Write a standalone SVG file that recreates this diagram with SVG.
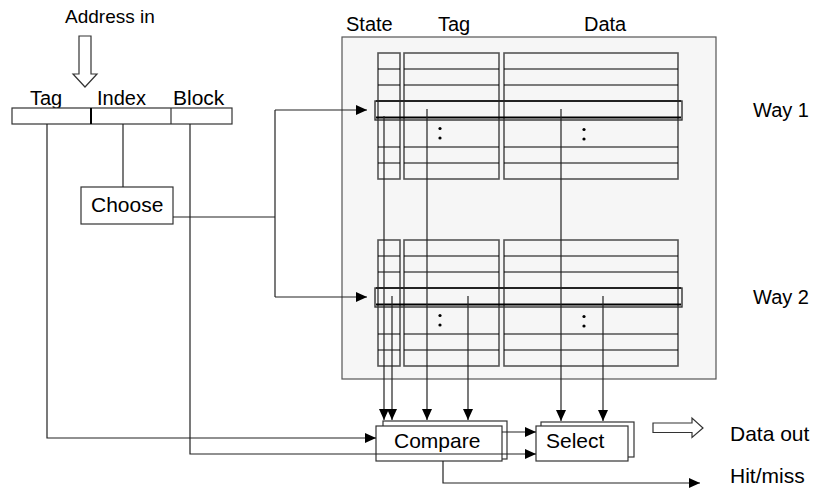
<svg xmlns="http://www.w3.org/2000/svg" width="821" height="493" viewBox="0 0 821 493">
  <style>
    text { font-family: "Liberation Sans", Arial, sans-serif; font-size: 20px; fill: #000; }
    .big { font-size: 21px; }
    .box { fill: #fff; stroke: #333; stroke-width: 1.2; }
    .col { fill: none; stroke: #555; stroke-width: 1.6; }
    .row { stroke: #000; stroke-width: 1; }
    .hrow { stroke: #000; stroke-width: 2; }
    .hl { fill: none; stroke: #333; stroke-width: 1.4; }
    .wire { fill: none; stroke: #222; stroke-width: 1.2; }
    .arr { marker-end: url(#head); }
    .hollow { fill: #fff; stroke: #333; stroke-width: 1.2; }
  </style>
  <defs>
    <marker id="head" markerUnits="userSpaceOnUse" markerWidth="12" markerHeight="11" refX="11" refY="5" orient="auto">
      <path d="M0,0 L11,5 L0,10 z" fill="#000"/>
    </marker>
    <!-- one way of the set: state / tag / data arrays with the selected row -->
    <g id="way">
      <rect class="col" x="378" y="0" width="22" height="126"/>
      <rect class="col" x="404" y="0" width="95" height="126"/>
      <rect class="col" x="504" y="0" width="174" height="126"/>
      <g class="row">
        <line x1="378" y1="16" x2="400" y2="16"/><line x1="404" y1="16" x2="499" y2="16"/><line x1="504" y1="16" x2="678" y2="16"/>
        <line x1="378" y1="32" x2="400" y2="32"/><line x1="404" y1="32" x2="499" y2="32"/><line x1="504" y1="32" x2="678" y2="32"/>
        <line x1="378" y1="94" x2="400" y2="94"/><line x1="404" y1="94" x2="499" y2="94"/><line x1="504" y1="94" x2="678" y2="94"/>
        <line x1="378" y1="110" x2="400" y2="110"/><line x1="404" y1="110" x2="499" y2="110"/><line x1="504" y1="110" x2="678" y2="110"/>
      </g>
      <g class="hrow">
        <line x1="376" y1="48" x2="681" y2="48"/>
        <line x1="376" y1="64.5" x2="681" y2="64.5"/>
      </g>
      <rect class="hl" x="375" y="48" width="307" height="19"/>
      <circle cx="440" cy="75.5" r="1.6"/><circle cx="440" cy="85" r="1.6"/>
      <circle cx="584" cy="76.5" r="1.6"/><circle cx="584" cy="86" r="1.6"/>
    </g>
  </defs>

  <!-- address register -->
  <g id="address">
    <text x="65" y="23" style="font-size:19px">Address in</text>
    <path class="hollow" d="M79,36 H91 V74 H97 L85,87 L73,74 H79 Z"/>
    <text x="30" y="105">Tag</text>
    <text x="97" y="105">Index</text>
    <text x="173" y="105" class="big">Block</text>
    <rect class="box" x="12" y="108" width="220" height="16"/>
    <line x1="91" y1="108" x2="91" y2="124" stroke="#000" stroke-width="2"/>
    <line x1="171" y1="108" x2="171" y2="124" stroke="#333" stroke-width="1.2"/>
  </g>

  <!-- set selector -->
  <g id="choose">
    <rect class="box" x="81" y="187" width="92" height="37"/>
    <text x="91" y="212" class="big">Choose</text>
  </g>

  <!-- two-way cache -->
  <g id="cache">
    <rect x="342" y="37" width="374" height="342" fill="#f6f6f6" stroke="#555" stroke-width="1.2"/>
    <text x="346" y="31">State</text>
    <text x="438" y="31">Tag</text>
    <text x="584" y="31">Data</text>
  </g>
  <g id="way1">
    <use href="#way" y="53"/>
    <text x="753" y="117">Way 1</text>
  </g>
  <g id="way2">
    <use href="#way" y="240"/>
    <text x="753" y="304">Way 2</text>
  </g>

  <!-- tag comparators -->
  <g id="compare">
    <rect class="box" x="383" y="421" width="124" height="38"/>
    <rect class="box" x="376" y="426" width="126" height="35"/>
    <text x="394" y="448" class="big">Compare</text>
  </g>

  <!-- data selector -->
  <g id="select">
    <rect class="box" x="541" y="422" width="93" height="35"/>
    <rect class="box" x="536" y="426" width="92" height="35"/>
    <text x="546" y="448" class="big">Select</text>
  </g>

  <!-- outputs -->
  <g id="dataout">
    <path class="hollow" d="M653,423 H692 V418 L703,428 L692,437.5 V432.5 H653 Z"/>
    <text x="730" y="441" class="big">Data out</text>
  </g>
  <g id="hitmiss">
    <text x="730" y="483" class="big">Hit/miss</text>
  </g>

  <g id="connectors">
    <polyline class="wire" points="123,124 123,187"/>
    <polyline class="wire" points="173,217 275,217"/>
    <polyline class="wire" points="275,110 275,297"/>
    <polyline class="wire arr" points="275,110 367,110"/>
    <polyline class="wire arr" points="275,297 367,297"/>
    <polyline class="wire arr" points="47,124 47,438 376,438"/>
    <polyline class="wire arr" points="190,124 190,454 536,454"/>
    <polyline class="wire arr" points="384,116 384,420"/>
    <polyline class="wire arr" points="392,296 392,420"/>
    <polyline class="wire arr" points="427,109 427,420"/>
    <polyline class="wire arr" points="468,296 468,420"/>
    <polyline class="wire arr" points="561,109 561,421"/>
    <polyline class="wire arr" points="603,296 603,421"/>
    <polyline class="wire arr" points="502,432 536,432"/>
    <polyline class="wire arr" points="443,461 443,483 700,483"/>
  </g>
</svg>
